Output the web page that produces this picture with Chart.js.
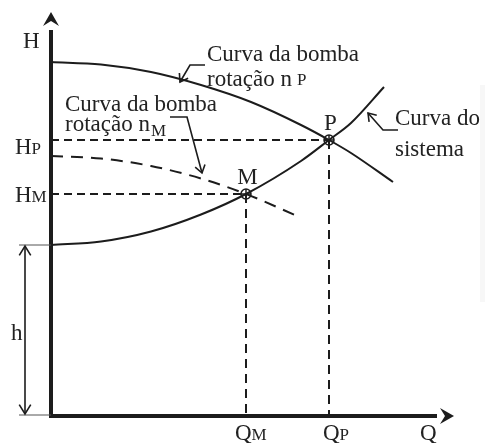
<!DOCTYPE html>
<html>
<head>
<meta charset="utf-8">
<script src="https://cdn.jsdelivr.net/npm/chart.js@4/dist/chart.umd.min.js"></script>
<style>
  html, body { margin: 0; padding: 0; background: #fff; }
  #chart { display: block; }
</style>
</head>
<body>
<canvas id="chart" width="485" height="443"></canvas>
<script>
// pump curve at speed nP
const qPumpP = [0, 5, 10, 15, 20, 25, 27.8, 30, 34.2];
const hPumpP = [35.4, 35.15, 34.4, 33.1, 31.4, 29.1, 27.6, 26.3, 23.4];
// pump curve at reduced speed nM (dashed)
const qPumpM = [0, 5, 10, 15, 19.5, 24.4];
const hPumpM = [26.0, 25.75, 25.0, 23.75, 22.2, 20.1];
// system curve, starts at the static head h
const qSystem = [0, 5, 10, 15, 19.5, 25, 27.8, 30, 33.3];
const hSystem = [17.1, 17.45, 18.45, 20.15, 22.2, 25.5, 27.6, 29.3, 32.9];
// operating points
const opNames = ["P", "M"];
const opQ = [27.8, 19.5];
const opH = [27.6, 22.2];
const staticHead = 17.1;

const INK = "#1c1c1c";
const SERIF = '"Liberation Serif", "DejaVu Serif", serif';

function pts(xs, ys) {
  return xs.map((x, i) => ({ x: x, y: ys[i] }));
}

const datasets = [
  {
    data: pts(qPumpP, hPumpP),
    borderColor: INK, borderWidth: 2, cubicInterpolationMode: "monotone"
  },
  {
    data: pts(qSystem, hSystem),
    borderColor: INK, borderWidth: 2, cubicInterpolationMode: "monotone"
  },
  {
    data: pts(qPumpM, hPumpM),
    borderColor: INK, borderWidth: 2, borderDash: [12, 8], cubicInterpolationMode: "monotone"
  }
];

// dashed guide lines from each operating point to the axes
opQ.forEach((q, i) => {
  datasets.push({
    data: [{ x: 0, y: opH[i] }, { x: q, y: opH[i] }],
    borderColor: INK, borderWidth: 2, borderDash: [8, 5]
  });
  datasets.push({
    data: [{ x: q, y: opH[i] }, { x: q, y: 0 }],
    borderColor: INK, borderWidth: 2, borderDash: [9, 6]
  });
});

// circle-with-cross markers
datasets.push({
  data: pts(opQ, opH), showLine: false,
  pointStyle: "circle", pointRadius: 5, pointBorderWidth: 1.5,
  pointBorderColor: INK, pointBackgroundColor: "rgba(0,0,0,0)"
});
datasets.push({
  data: pts(opQ, opH), showLine: false,
  pointStyle: "cross", pointRadius: 5, pointBorderWidth: 1.5,
  pointBorderColor: INK
});

datasets.forEach(d => {
  if (d.showLine === undefined) d.showLine = true;
  if (d.pointRadius === undefined) d.pointRadius = 0;
  d.clip = false;
});

function textWithSub(ctx, main, sub, x, y, gap, drop) {
  ctx.font = "23px " + SERIF;
  ctx.fillText(main, x, y);
  const w = ctx.measureText(main).width;
  ctx.font = "17px " + SERIF;
  ctx.fillText(sub, x + w + gap, y + drop);
}

function arrowHead(ctx, fx, fy, tx, ty, len, spread) {
  const a = Math.atan2(ty - fy, tx - fx);
  ctx.beginPath();
  ctx.moveTo(tx - len * Math.cos(a - spread), ty - len * Math.sin(a - spread));
  ctx.lineTo(tx, ty);
  ctx.lineTo(tx - len * Math.cos(a + spread), ty - len * Math.sin(a + spread));
  ctx.stroke();
}

const decorations = {
  id: "decorations",
  afterDatasetsDraw(chart) {
    const ctx = chart.ctx;
    const xs = chart.scales.x, ys = chart.scales.y;
    const px = q => xs.getPixelForValue(q);
    const py = h => ys.getPixelForValue(h);
    const x0 = px(0), y0 = py(0);

    ctx.save();
    ctx.strokeStyle = INK;
    ctx.fillStyle = INK;

    // faint paper edge on the right
    ctx.fillStyle = "#f7f7f7";
    ctx.fillRect(px(42.9), py(33.1), 6, py(11.4) - py(33.1));
    ctx.fillStyle = INK;

    // axes
    ctx.lineWidth = 4;
    ctx.lineCap = "butt";
    ctx.beginPath();
    ctx.moveTo(x0, y0 + 2);
    ctx.lineTo(x0, py(38.6));
    ctx.moveTo(x0 - 2, y0);
    ctx.lineTo(px(38.6), y0);
    ctx.stroke();
    // arrow tips
    const tipY = py(40.4), tipX = px(40.3);
    ctx.beginPath();
    ctx.moveTo(x0, tipY);
    ctx.lineTo(x0 + 8, tipY + 14);
    ctx.lineTo(x0, tipY + 9);
    ctx.lineTo(x0 - 8, tipY + 14);
    ctx.closePath();
    ctx.fill();
    ctx.beginPath();
    ctx.moveTo(tipX, y0);
    ctx.lineTo(tipX - 14, y0 - 8);
    ctx.lineTo(tipX - 9, y0);
    ctx.lineTo(tipX - 14, y0 + 8);
    ctx.closePath();
    ctx.fill();

    // static head dimension h
    const hx = px(-2.6), hTop = py(staticHead);
    ctx.lineWidth = 1;
    ctx.strokeStyle = "#555";
    ctx.beginPath();
    ctx.moveTo(px(-3.2), hTop); ctx.lineTo(x0, hTop);
    ctx.moveTo(px(-3.2), y0 - 1); ctx.lineTo(x0, y0 - 1);
    ctx.stroke();
    ctx.strokeStyle = INK;
    ctx.lineWidth = 1.6;
    ctx.beginPath();
    ctx.moveTo(hx, hTop + 1); ctx.lineTo(hx, y0 - 2);
    ctx.stroke();
    arrowHead(ctx, hx, y0, hx, hTop + 1, 11, 0.55);
    arrowHead(ctx, hx, hTop, hx, y0 - 2, 11, 0.55);

    // leader arrows for the curve labels
    ctx.lineWidth = 1.6;
    const leaders = [
      [[15.4, 35.1], [13.9, 35.1], [12.9, 33.4]],
      [[11.9, 29.9], [13.6, 29.9], [15.1, 24.3]],
      [[34.7, 28.6], [33.2, 28.6], [31.7, 30.3]]
    ];
    leaders.forEach(l => {
      ctx.beginPath();
      ctx.moveTo(px(l[0][0]), py(l[0][1]));
      ctx.lineTo(px(l[1][0]), py(l[1][1]));
      ctx.lineTo(px(l[2][0]), py(l[2][1]));
      ctx.stroke();
      arrowHead(ctx, px(l[1][0]), py(l[1][1]), px(l[2][0]), py(l[2][1]), 9, 0.6);
    });

    // text
    ctx.fillStyle = "#222";
    ctx.textBaseline = "alphabetic";
    ctx.textAlign = "left";
    ctx.font = "23px " + SERIF;
    ctx.fillText("H", px(-2.8), py(36.8));
    ctx.fillText("h", px(-4.0), py(7.6));
    textWithSub(ctx, "H", "P", px(-3.6), py(26.2), 0, 0);
    textWithSub(ctx, "H", "M", px(-3.6), py(21.4), 0, 0);
    textWithSub(ctx, "Q", "M", px(18.4), py(-2.4), 0, 0);
    textWithSub(ctx, "Q", "P", px(27.2), py(-2.4), 0, 0);
    ctx.font = "23px " + SERIF;
    ctx.fillText("Q", px(36.9), py(-2.4));

    ctx.fillText("Curva da bomba", px(15.6), py(35.5));
    textWithSub(ctx, "rotação n", "P", px(15.6), py(33.0), 5, -1);
    ctx.font = "23px " + SERIF;
    ctx.fillText("Curva da bomba", px(1.4), py(30.5));
    textWithSub(ctx, "rotação n", "M", px(1.4), py(28.5), 1, 5);
    ctx.font = "23px " + SERIF;
    ctx.fillText("Curva do", px(34.4), py(29.1));
    ctx.fillText("sistema", px(34.4), py(26.0));

    ctx.textAlign = "center";
    opNames.forEach((n, i) => {
      ctx.fillText(n, px(opQ[i] + 0.15), py(opH[i] + 1.0));
    });
    ctx.restore();
  }
};

new Chart(document.getElementById("chart"), {
  type: "scatter",
  data: { datasets: datasets },
  options: {
    responsive: false,
    animation: false,
    layout: { padding: { left: 51, right: 34, top: 16, bottom: 27 } },
    scales: {
      x: { type: "linear", min: 0, max: 40, display: false },
      y: { type: "linear", min: 0, max: 40, display: false }
    },
    plugins: {
      legend: { display: false },
      tooltip: { enabled: false }
    }
  },
  plugins: [decorations]
});
</script>
</body>
</html>
